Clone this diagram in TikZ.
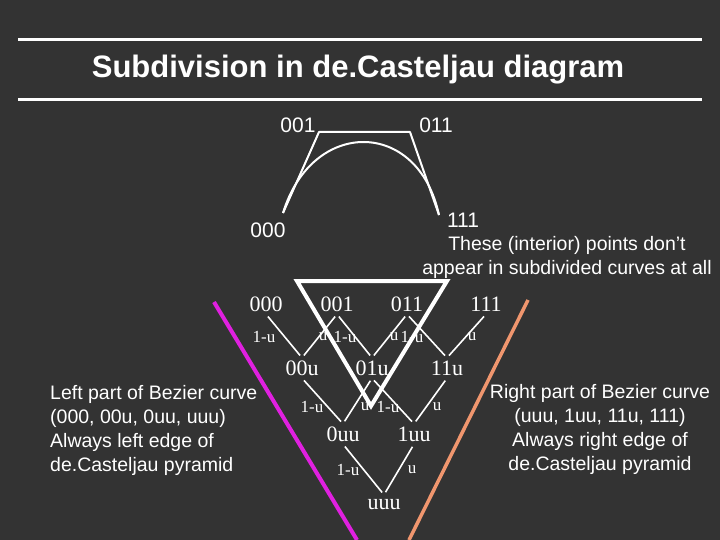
\documentclass[tikz,border=0pt]{standalone}
\usepackage{fontspec}
\setmainfont{Liberation Serif}
\setsansfont{Liberation Sans}
\begin{document}
\begin{tikzpicture}[x=1pt,y=-1pt,
  every node/.style={text=white,inner sep=0pt},
  ctl/.style={font=\sffamily\fontsize{21}{21}\selectfont},
  pyr/.style={font=\fontsize{22}{22}\selectfont},
  wt/.style={font=\fontsize{17}{17}\selectfont},
  note/.style={font=\sffamily\fontsize{19.5}{24}\selectfont},
  edge/.style={draw=white,line width=2pt},
  thin/.style={draw=white,line width=1.6pt,shorten >=3pt,shorten <=3pt}]
\fill[fill={rgb,255:red,51;green,51;blue,51}] (0,0) rectangle (720,540);
\useasboundingbox (0,0) rectangle (720,540);
\draw[white,line width=3pt] (18,40) -- (702,40);
\draw[white,line width=3pt] (18,100) -- (702,100);
\node[font=\sffamily\bfseries\fontsize{31}{31}\selectfont] (title) at (358,70) {Subdivision in de.Casteljau diagram};
% control polygon
\coordinate (p0) at (283,213); \coordinate (p1) at (319,132);
\coordinate (p2) at (410,132); \coordinate (p3) at (439,215);
\coordinate (q1) at (312,118); \coordinate (q2) at (418,118);
\draw[edge,line join=round] (p0) -- (p1) -- (p2) -- (p3);
\draw[edge] (p0) .. controls (q1) and (q2) .. (p3);
\node[ctl] (c001) at (298,125) {001};
\node[ctl] (c011) at (436,125) {011};
\node[ctl] (c000) at (268,230) {000};
\node[ctl] (c111) at (463,220) {111};
\node[note,align=center] (inter) at (567,257) {These (interior) points don’t\\appear in subdivided curves at all};
% white triangle
\coordinate (t1) at (297,281); \coordinate (t2) at (447,281); \coordinate (t3) at (371,406);
\draw[white,line width=4pt,line join=miter] (t1) -- (t2) -- (t3) -- cycle;
% edges of pyramid
\coordinate (m1) at (214,302); \coordinate (m2) at (357,540);
\draw[line width=4pt,color={rgb,255:red,224;green,32;blue,224}] (m1) -- (m2);
\coordinate (o1) at (528,300); \coordinate (o2) at (409,540);
\draw[line width=3.5pt,color={rgb,255:red,240;green,150;blue,110}] (o1) -- (o2);
% pyramid nodes
\node[pyr,minimum height=20pt] (a0) at (266,304) {000};
\node[pyr,minimum height=20pt] (a1) at (337,304) {001};
\node[pyr,minimum height=20pt] (a2) at (407,304) {011};
\node[pyr,minimum height=20pt] (a3) at (486,304) {111};
\node[pyr,minimum height=20pt] (b0) at (302,368) {00u};
\node[pyr,minimum height=20pt] (b1) at (372,368) {01u};
\node[pyr,minimum height=20pt] (b2) at (447,368) {11u};
\node[pyr,minimum height=20pt] (c0) at (343,434) {0uu};
\node[pyr,minimum height=20pt] (c1) at (414,434) {1uu};
\node[pyr,minimum height=20pt] (d0) at (384,505) {uuu};
\draw[thin] (a0.south) -- (b0.north);
\draw[thin] (a1.south) -- (b0.north);
\draw[thin] (a1.south) -- (b1.north);
\draw[thin] (a2.south) -- (b1.north);
\draw[thin] (a2.south) -- (b2.north);
\draw[thin] (a3.south) -- (b2.north);
\draw[thin] (b0.south) -- (c0.north);
\draw[thin] (b1.south) -- (c0.north);
\draw[thin] (b1.south) -- (c1.north);
\draw[thin] (b2.south) -- (c1.north);
\draw[thin] (c0.south) -- (d0.north);
\draw[thin] (c1.south) -- (d0.north);
% weights
\node[wt] (w1) at (264,337) {1-u};
\node[wt] (w2) at (323,337) {u};
\node[wt] (w3) at (345,337) {1-u};
\node[wt] (w4) at (394,337) {u};
\node[wt] (w5) at (412,337) {1-u};
\node[wt] (w6) at (472,337) {u};
\node[wt] (w7) at (312,407) {1-u};
\node[wt] (w8) at (365,407) {u};
\node[wt] (w9) at (388,407) {1-u};
\node[wt] (w10) at (437,407) {u};
\node[wt] (w11) at (348,470) {1-u};
\node[wt] (w12) at (412,470) {u};
% side notes
\node[note,align=left,anchor=west] (left) at (50,430) {Left part of Bezier curve\\(000, 00u, 0uu, uuu)\\Always left edge of\\de.Casteljau pyramid};
\node[note,align=center] (right) at (600,429) {Right part of Bezier curve\\(uuu, 1uu, 11u, 111)\\Always right edge of\\de.Casteljau pyramid};
\end{tikzpicture}
\end{document}
